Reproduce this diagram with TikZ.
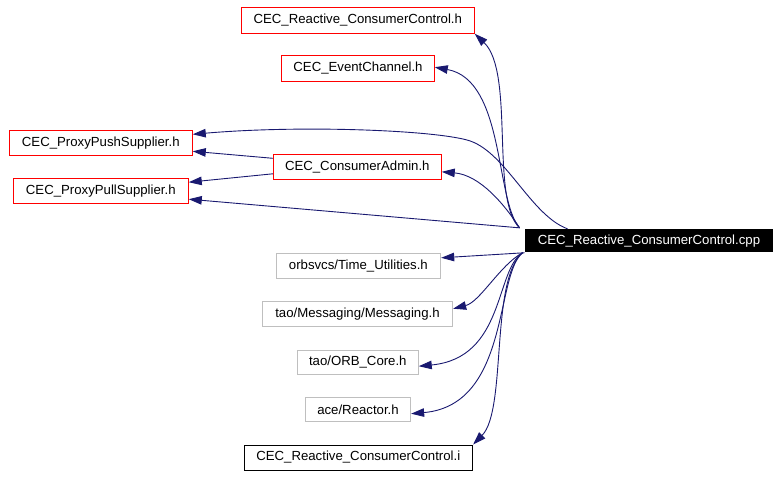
\documentclass[tikz,border=0pt]{standalone}
\usepackage{fontspec}
\setmainfont{Liberation Sans}
\usetikzlibrary{arrows.meta}
\definecolor{edgeblue}{HTML}{191970}
\definecolor{boxred}{HTML}{FF0000}
\definecolor{boxgray}{HTML}{BFBFBF}
\begin{document}
\begin{tikzpicture}[x=1pt,y=-1pt,
  box/.style={rectangle, inner sep=0pt, line width=0.9pt, font=\fontsize{13.2}{15}\selectfont, anchor=center},
  redbox/.style={box, draw=boxred},
  graybox/.style={box, draw=boxgray},
  blackbox/.style={box, draw=black},
  rootbox/.style={box, fill=black, text=white},
  dep/.style={draw=edgeblue, line width=0.9pt, -{Triangle[length=13pt,width=8.5pt]}}
]
\useasboundingbox (0,0) rectangle (778,476);

\node[redbox, minimum width=233pt, minimum height=26pt] (rch) at (357.8,20.3) {CEC\_Reactive\_ConsumerControl.h};
\node[redbox, minimum width=152.6pt, minimum height=25.7pt] (ec) at (358,68.2) {CEC\_EventChannel.h};
\node[redbox, minimum width=183pt, minimum height=25pt] (pps) at (100.8,142.8) {CEC\_ProxyPushSupplier.h};
\node[redbox, minimum width=168pt, minimum height=25pt] (ca) at (357.3,166.8) {CEC\_ConsumerAdmin.h};
\node[redbox, minimum width=175pt, minimum height=24.7pt] (ppl) at (100.8,190.7) {CEC\_ProxyPullSupplier.h};
\node[rootbox, minimum width=248pt, minimum height=23pt] (cpp) at (649,240.8) {CEC\_Reactive\_ConsumerControl.cpp};
\node[graybox, minimum width=164.7pt, minimum height=25pt] (tu) at (358.4,265.8) {orbsvcs/Time\_Utilities.h};
\node[graybox, minimum width=190.4pt, minimum height=25pt] (msg) at (357.5,314.2) {tao/Messaging/Messaging.h};
\node[graybox, minimum width=121pt, minimum height=24.3pt] (orb) at (357.8,362.2) {tao/ORB\_Core.h};
\node[graybox, minimum width=105.4pt, minimum height=24pt] (rea) at (358,409.7) {ace/Reactor.h};
\node[blackbox, minimum width=228.7pt, minimum height=25pt] (ci) at (358.3,457.5) {CEC\_Reactive\_ConsumerControl.i};

\coordinate (ct) at ([xshift=-5pt,yshift=1pt]cpp.north west);
\coordinate (cb) at ([xshift=-2pt]cpp.south west);

\draw[dep] (ct) .. controls (490,200) and (515,72) .. (rch.south east);
\draw[dep] (ct) .. controls (495,200) and (505,80) .. ([yshift=1pt]ec.east);
\draw[dep] ([xshift=43pt]cpp.north west) .. controls (530,215) and (505,150) .. (467,140) .. controls (430,130) and (300,125) .. ([yshift=8.5pt]pps.east);
\draw[dep] ([yshift=8.5pt]ca.west) -- ([yshift=-8.5pt]pps.east);
\draw[dep] ([yshift=-7pt]ca.west) -- ([yshift=8.5pt]ppl.east);
\draw[dep] (ct) -- ([yshift=-8.5pt]ppl.east);
\draw[dep] (ct) .. controls (505,205) and (480,175) .. ([yshift=-5pt]ca.east);
\draw[dep] (cpp.south west) -- ([yshift=8pt]tu.east);
\draw[dep] (cb) .. controls (500,265) and (480,302) .. ([yshift=5.5pt]msg.east);
\draw[dep] (cb) .. controls (495,270) and (505,358) .. ([yshift=-4pt]orb.east);
\draw[dep] (cb) .. controls (495,275) and (510,405) .. ([yshift=-4pt]rea.east);
\draw[dep] (cb) .. controls (490,280) and (507,410) .. (ci.north east);
\end{tikzpicture}
\end{document}
